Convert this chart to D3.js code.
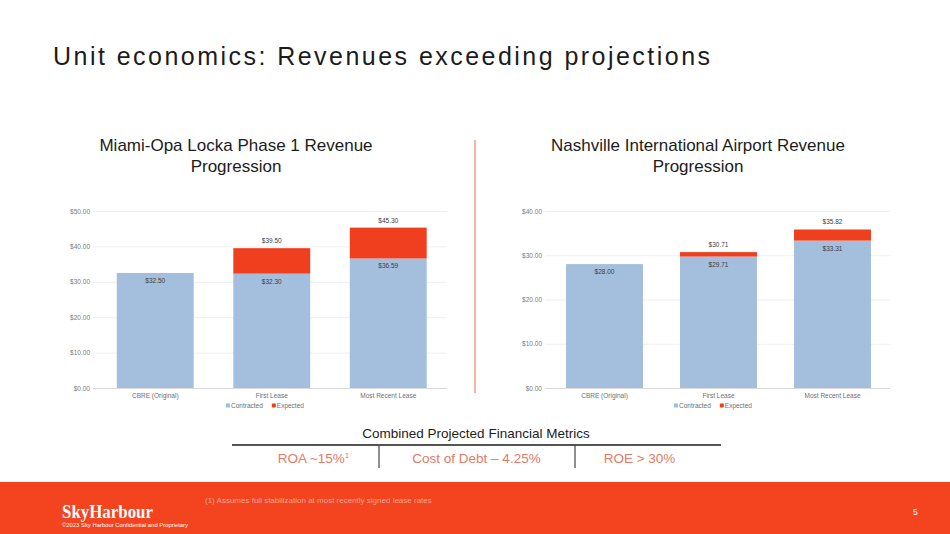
<!DOCTYPE html>
<html>
<head>
<meta charset="utf-8">
<script src="https://cdn.jsdelivr.net/npm/d3@7"></script>
<style>
  html, body { margin: 0; padding: 0; background: #fff; }
  svg { display: block; font-family: "Liberation Sans", Arial, sans-serif; }
</style>
</head>
<body>
<svg id="slide" width="950" height="534"></svg>
<script>
/* ---------- data ---------- */
const categories = ["CBRE (Original)", "First Lease", "Most Recent Lease"];
const seriesNames = ["Contracted", "Expected"];

// Miami-Opa Locka Phase 1
const miamiContracted = [32.50, 32.30, 36.59];
const miamiTotal      = [32.50, 39.50, 45.30];
const miamiTicks      = [0, 10, 20, 30, 40, 50];

// Nashville International Airport
const nashContracted  = [28.00, 29.71, 33.31];
const nashTotal       = [28.00, 30.71, 35.82];
const nashTicks       = [0, 10, 20, 30, 40];

const metrics = ["ROA ~15%", "Cost of Debt \u2013 4.25%", "ROE > 30%"];

/* ---------- styles ---------- */
const blue = "#a4bedd";
const red  = "#f03f1f";
const brand = "#f4431f";
const salmon = "#e27b66";
const ink = "#1c1c1c";

const svg = d3.select("#slide");

// headline
svg.append("text").attr("x", 53).attr("y", 65)
  .attr("font-size", 25).attr("fill", ink)
  .attr("textLength", 657).attr("lengthAdjust", "spacing")
  .text("Unit economics: Revenues exceeding projections");

/* ---------- one stacked bar chart ---------- */
function barChart(o) {
  const g = svg.append("g");
  const y = d3.scaleLinear().domain([0, d3.max(o.ticks)]).range([388, 211]);
  const x = d3.scaleBand().domain(categories).range(o.range)
    .paddingInner(o.pad).paddingOuter(o.pad / 2);

  // title (two lines)
  o.title.forEach((t, i) =>
    g.append("text").attr("x", o.titleX).attr("y", 151 + i * 21)
      .attr("text-anchor", "middle").attr("font-size", 17).attr("fill", ink).text(t));

  // y axis + grid
  const ya = g.append("g").attr("transform", `translate(${o.grid[0]},0)`)
    .call(d3.axisLeft(y).tickValues(o.ticks).tickFormat(d3.format("$.2f"))
      .tickSize(-(o.grid[1] - o.grid[0])).tickPadding(3));
  ya.select(".domain").remove();
  ya.selectAll(".tick line").attr("stroke", "#efefef")
    .filter(d => d === 0).attr("stroke", "#d9d9d9");
  ya.selectAll(".tick text").attr("fill", "#7a7a7a").attr("font-size", 6.5);

  // x axis labels
  const xa = g.append("g").attr("transform", "translate(0,388)")
    .call(d3.axisBottom(x).tickSize(0).tickPadding(5));
  xa.select(".domain").remove();
  xa.selectAll(".tick text").attr("fill", "#6f6f6f").attr("font-size", 6.5);

  const rows = categories.map((c, i) => ({ c, con: o.contracted[i], tot: o.total[i] }));

  // contracted
  g.selectAll(".con").data(rows).join("rect")
    .attr("x", d => x(d.c)).attr("width", x.bandwidth())
    .attr("y", d => y(d.con)).attr("height", d => y(0) - y(d.con))
    .attr("fill", blue);
  // expected (stacked on contracted)
  g.selectAll(".exp").data(rows.filter(d => d.tot > d.con)).join("rect")
    .attr("x", d => x(d.c)).attr("width", x.bandwidth())
    .attr("y", d => y(d.tot)).attr("height", d => y(d.con) - y(d.tot))
    .attr("fill", red);

  // labels
  g.selectAll(".lc").data(rows).join("text")
    .attr("x", d => x(d.c) + x.bandwidth() / 2).attr("y", d => y(d.con) + 10)
    .attr("text-anchor", "middle").attr("font-size", 6.5).attr("fill", "#404040")
    .text(d => d3.format("$.2f")(d.con));
  g.selectAll(".lt").data(rows.filter(d => d.tot > d.con)).join("text")
    .attr("x", d => x(d.c) + x.bandwidth() / 2).attr("y", d => y(d.tot) - 5)
    .attr("text-anchor", "middle").attr("font-size", 6.5).attr("fill", "#404040")
    .text(d => d3.format("$.2f")(d.tot));

  // legend
  const lg = g.append("g").attr("transform", `translate(${o.legendX},408)`);
  let lx = 0;
  seriesNames.forEach((s, i) => {
    lg.append("rect").attr("x", lx).attr("y", -4.5).attr("width", 4).attr("height", 4)
      .attr("fill", i ? red : blue);
    const t = lg.append("text").attr("x", lx + 5).attr("y", 0)
      .attr("font-size", 6.5).attr("fill", "#6f6f6f").text(s);
    lx += 5 + t.node().getComputedTextLength() + 9;
  });
}

barChart({
  title: ["Miami-Opa Locka Phase 1 Revenue", "Progression"], titleX: 236,
  contracted: miamiContracted, total: miamiTotal, ticks: miamiTicks,
  range: [97, 446.5], pad: 0.34, grid: [93, 447], legendX: 226
});
barChart({
  title: ["Nashville International Airport Revenue", "Progression"], titleX: 698,
  contracted: nashContracted, total: nashTotal, ticks: nashTicks,
  range: [547.5, 889.5], pad: 0.325, grid: [545, 890], legendX: 674
});

// divider between charts
svg.append("line").attr("x1", 475).attr("x2", 475).attr("y1", 140).attr("y2", 393)
  .attr("stroke", "#ef8b74").attr("stroke-width", 1.3);

/* ---------- combined metrics ---------- */
svg.append("text").attr("x", 476).attr("y", 438).attr("text-anchor", "middle")
  .attr("font-size", 13.5).attr("fill", ink).text("Combined Projected Financial Metrics");
svg.append("line").attr("x1", 232).attr("x2", 721).attr("y1", 445).attr("y2", 445)
  .attr("stroke", "#555").attr("stroke-width", 2);
const cells = d3.scaleBand().domain(metrics).range([232, 721]);
[379, 575].forEach(xv =>
  svg.append("line").attr("x1", xv).attr("x2", xv).attr("y1", 445).attr("y2", 468)
    .attr("stroke", "#444").attr("stroke-width", 1.2));
metrics.forEach((m, i) => {
  const t = svg.append("text").attr("x", cells(m) + cells.bandwidth() / 2).attr("y", 463)
    .attr("text-anchor", "middle").attr("font-size", 13.5).attr("fill", salmon).text(m);
  if (i === 0) t.append("tspan").attr("font-size", 8).attr("dy", -5).text("1");
});

/* ---------- footer ---------- */
svg.append("rect").attr("x", 0).attr("y", 482).attr("width", 950).attr("height", 52).attr("fill", brand);
svg.append("text").attr("x", 62).attr("y", 518)
  .attr("font-family", "'Liberation Serif', 'DejaVu Serif', serif").attr("font-weight", "bold")
  .attr("font-size", 18).attr("fill", "#fff").attr("textLength", 91).attr("lengthAdjust", "spacingAndGlyphs")
  .text("SkyHarbour");
svg.append("text").attr("x", 62).attr("y", 527).attr("font-size", 5.5).attr("fill", "#fff")
  .attr("textLength", 126).attr("lengthAdjust", "spacingAndGlyphs")
  .text("\u00a92023 Sky Harbour Confidential and Proprietary");
svg.append("text").attr("x", 205).attr("y", 503).attr("font-size", 8).attr("fill", "#f9a792")
  .text("(1) Assumes full stabilization at most recently signed lease rates");
svg.append("text").attr("x", 913).attr("y", 515).attr("font-size", 8.5).attr("fill", "#fff").text("5");
</script>
</body>
</html>
